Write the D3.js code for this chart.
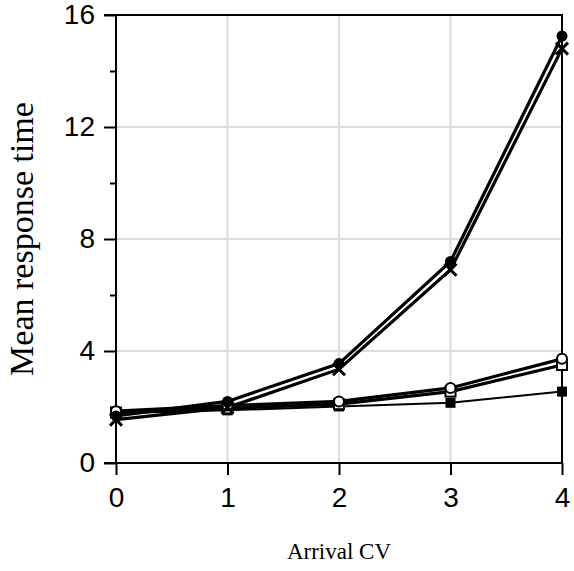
<!DOCTYPE html>
<html>
<head>
<meta charset="utf-8">
<script src="https://cdn.jsdelivr.net/npm/d3@7"></script>
<style>
    body { margin: 0; background: #fff; }
    svg { display: block; }
</style>
</head>
<body>
<svg id="chart" width="574" height="571"></svg>
<script>
// data
var arrivalCV = [0, 1, 2, 3, 4]
var filledCircle = [1.68, 2.2, 3.55, 7.2, 15.25]
var crossMark = [1.55, 1.98, 3.35, 6.9, 14.8]
var openCircle = [1.85, 2.05, 2.2, 2.68, 3.72]
var openSquare = [1.8, 1.95, 2.1, 2.55, 3.5]
var filledSquare = [1.78, 1.88, 2.02, 2.15, 2.55]
var xTicks = [0, 1, 2, 3, 4]
var yTicks = [0, 4, 8, 12, 16]
var yMinorTicks = [2, 6, 10, 14]

var series = [
    {name: "filledSquare", values: filledSquare, marker: "square", fill: "#000"},
    {name: "openSquare", values: openSquare, marker: "square", fill: "#fff"},
    {name: "openCircle", values: openCircle, marker: "circle", fill: "#fff"},
    {name: "cross", values: crossMark, marker: "cross", fill: "none"},
    {name: "filledCircle", values: filledCircle, marker: "circle", fill: "#000"}
]

var svg = d3.select("#chart")
var plotLeft = 116, plotRight = 562, plotTop = 15, plotBottom = 463

var x = d3.scaleLinear().domain([0, 4]).range([plotLeft, plotRight])
var y = d3.scaleLinear().domain([0, 16]).range([plotBottom, plotTop])

// grid
svg.append("g")
    .selectAll("line")
    .data([1, 2, 3])
    .enter()
        .append("line")
        .attr("x1", function(d){ return x(d) })
        .attr("x2", function(d){ return x(d) })
        .attr("y1", plotTop)
        .attr("y2", plotBottom)
        .attr("stroke", "#dcdcdc")
        .attr("stroke-width", 2)

svg.append("g")
    .selectAll("line")
    .data([4, 8, 12])
    .enter()
        .append("line")
        .attr("x1", plotLeft)
        .attr("x2", plotRight)
        .attr("y1", function(d){ return y(d) })
        .attr("y2", function(d){ return y(d) })
        .attr("stroke", "#dcdcdc")
        .attr("stroke-width", 2)

// axes
svg.append("g")
    .attr("transform", "translate(" + plotLeft + ",0)")
    .call(d3.axisLeft(y).tickValues(yTicks).tickSize(12).tickPadding(9).tickFormat(d3.format("d")))

svg.append("g")
    .attr("transform", "translate(" + plotLeft + ",0)")
    .call(d3.axisLeft(y).tickValues(yMinorTicks).tickSize(6).tickFormat(""))

svg.append("g")
    .attr("transform", "translate(0," + plotBottom + ")")
    .call(d3.axisBottom(x).tickValues(xTicks).tickSize(12).tickPadding(12).tickFormat(d3.format("d")))

svg.selectAll(".domain").remove()

// frame
var frame = [
    [plotLeft - 12, plotTop, plotRight + 1, plotTop],
    [plotRight, plotTop, plotRight, plotBottom],
    [plotLeft, plotTop, plotLeft, plotBottom],
    [plotLeft - 12, plotBottom, plotRight + 1, plotBottom]
]
svg.append("g")
    .selectAll("line")
    .data(frame)
    .enter()
        .append("line")
        .attr("x1", function(d){ return d[0] })
        .attr("y1", function(d){ return d[1] })
        .attr("x2", function(d){ return d[2] })
        .attr("y2", function(d){ return d[3] })
        .attr("stroke", "#000")
        .attr("stroke-width", 2)

svg.selectAll(".tick line").attr("stroke", "#000").attr("stroke-width", 2)
svg.selectAll(".tick text")
    .attr("font-family", "Liberation Sans, Arial, sans-serif")
    .attr("font-size", 28)
    .attr("fill", "#000")

// lines
var line = d3.line()
    .x(function(d, i){ return x(arrivalCV[i]) })
    .y(function(d){ return y(d) })

svg.append("g")
    .selectAll("path")
    .data(series)
    .enter()
        .append("path")
        .attr("d", function(s){ return line(s.values) })
        .attr("fill", "none")
        .attr("stroke", "#000")
        .attr("stroke-width", function(s){ return s.name == "filledSquare" ? 2 : 3.2 })

// markers
series.forEach(function(s)
{
    var g = svg.append("g")
    var pts = s.values.map(function(v, i){ return [x(arrivalCV[i]), y(v)] })
    if(s.marker == "circle")
    {
        g.selectAll("circle")
            .data(pts)
            .enter()
                .append("circle")
                .attr("cx", function(d){ return d[0] })
                .attr("cy", function(d){ return d[1] })
                .attr("r", s.fill == "#000" ? 5.5 : 5)
                .attr("fill", s.fill)
                .attr("stroke", "#000")
                .attr("stroke-width", s.fill == "#000" ? 0 : 2)
    }
    else if(s.marker == "square")
    {
        g.selectAll("rect")
            .data(pts)
            .enter()
                .append("rect")
                .attr("x", function(d){ return d[0] - 5 })
                .attr("y", function(d){ return d[1] - 5 })
                .attr("width", 10)
                .attr("height", 10)
                .attr("fill", s.fill)
                .attr("stroke", "#000")
                .attr("stroke-width", s.fill == "#000" ? 0 : 2)
    }
    else
    {
        g.selectAll("path")
            .data(pts)
            .enter()
                .append("path")
                .attr("d", function(d){
                    var r = 6
                    return "M" + (d[0] - r) + "," + (d[1] - r) + "L" + (d[0] + r) + "," + (d[1] + r)
                        + "M" + (d[0] - r) + "," + (d[1] + r) + "L" + (d[0] + r) + "," + (d[1] - r)
                })
                .attr("stroke", "#000")
                .attr("stroke-width", 3)
    }
})

// axis titles
svg.append("text")
    .attr("x", (plotLeft + plotRight) / 2)
    .attr("y", 559)
    .attr("text-anchor", "middle")
    .attr("font-family", "Liberation Serif, Times New Roman, serif")
    .attr("font-size", 23)
    .text("Arrival CV")

svg.append("text")
    .attr("transform", "translate(33," + ((plotTop + plotBottom) / 2) + ") rotate(-90)")
    .attr("text-anchor", "middle")
    .attr("font-family", "Liberation Serif, Times New Roman, serif")
    .attr("font-size", 34)
    .text("Mean response time")
</script>
</body>
</html>
